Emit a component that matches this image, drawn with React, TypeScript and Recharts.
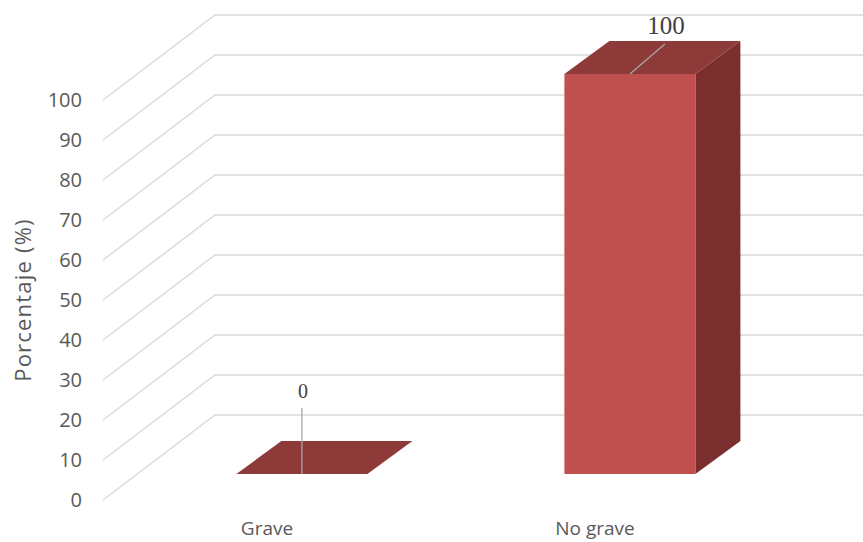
import { BarChart, Bar, XAxis, YAxis, CartesianGrid } from "recharts";

const CATEGORIES = ["Grave", "No grave"];
const PERCENTAGES = [0, 100];
const Y_TICKS = [0, 10, 20, 30, 40, 50, 60, 70, 80, 90, 100];

const data = CATEGORIES.map((name, i) => ({ name, pct: PERCENTAGES[i] }));

// floor/back-wall depth and where the bars sit inside it
const WALL_DX = 112;
const WALL_DY = -85;
const BAR_OX = 35;
const BAR_OY = -26;
const BAR_DX = 45;
const BAR_DY = -33;

const FRONT = "#C0504D";
const TOP = "#8E3A39";
const SIDE = "#7A2F2E";
const GRID = "#D9D9D9";
const AXIS_TEXT = "#595959";

// leader line + label placement for each data label
const LEADERS = [
  { dx: 0, dy: -66, fontSize: 20 },
  { dx: 35, dy: -30, fontSize: 25 },
];

// gridline: diagonal along the side wall, then across the back wall
// eslint-disable-next-line @typescript-eslint/no-explicit-any
function WallLine(p: any) {
  const bx = p.x1 + WALL_DX;
  const by = p.y1 + WALL_DY;
  return (
    <path
      key={`wall-${p.index}-${p.y1}`}
      d={`M${p.x1},${p.y1} L${bx},${by} L${p.x2 + 200},${by}`}
      stroke={GRID}
      strokeWidth={1.4}
      fill="none"
    />
  );
}

// eslint-disable-next-line @typescript-eslint/no-explicit-any
function Box3D(props: any) {
  const { x, y, width, height, index, payload } = props;
  const fx = x + BAR_OX;
  const fy = y + BAR_OY;
  const w = width;
  const h = Math.max(height, 0);
  const cx = fx + w / 2;
  const lead = LEADERS[index] ?? LEADERS[0];
  return (
    <g>
      {h > 0 && (
        <polygon
          points={`${fx + w},${fy} ${fx + w + BAR_DX},${fy + BAR_DY} ${fx + w + BAR_DX},${fy + h + BAR_DY} ${fx + w},${fy + h}`}
          fill={SIDE}
        />
      )}
      {h > 0 && <rect x={fx} y={fy} width={w} height={h} fill={FRONT} />}
      <polygon
        points={`${fx},${fy} ${fx + w},${fy} ${fx + w + BAR_DX},${fy + BAR_DY} ${fx + BAR_DX},${fy + BAR_DY}`}
        fill={TOP}
      />
      <line
        x1={cx}
        y1={fy}
        x2={cx + lead.dx}
        y2={fy + lead.dy}
        stroke="#A6A6A6"
        strokeWidth={1.3}
      />
      <text
        x={cx + lead.dx + 1}
        y={fy + lead.dy - 10}
        textAnchor="middle"
        fontFamily="'Liberation Serif', serif"
        fontSize={lead.fontSize}
        fill="#404040"
      >
        {payload.pct}
      </text>
    </g>
  );
}

export default function App() {
  return (
    <div style={{ position: "absolute", left: 0, top: 0, background: "#fff" }}>
      <BarChart
        width={863}
        height={542}
        data={data}
        margin={{ top: 100, right: 104, bottom: 0, left: 0 }}
        barCategoryGap="30%"
      >
        <CartesianGrid vertical={false} horizontal={WallLine} />
        <XAxis
          dataKey="name"
          height={42}
          tickLine={false}
          axisLine={false}
          tickSize={0}
          tickMargin={22}
          tick={{ fill: AXIS_TEXT, fontSize: 19, fontFamily: "'Open Sans', sans-serif" }}
        />
        <YAxis
          width={103}
          domain={[0, 100]}
          ticks={Y_TICKS}
          interval={0}
          tickLine={false}
          axisLine={false}
          tickSize={0}
          tickMargin={21}
          tick={{ fill: AXIS_TEXT, fontSize: 20, fontFamily: "'Open Sans', sans-serif" }}
          label={{
            value: "Porcentaje (%)",
            angle: -90,
            position: "insideLeft",
            offset: 23,
            style: {
              textAnchor: "middle",
              fill: AXIS_TEXT,
              fontSize: 22,
              letterSpacing: 1.2,
              fontFamily: "'Open Sans', sans-serif",
            },
          }}
        />
        <Bar dataKey="pct" shape={Box3D} isAnimationActive={false} />
      </BarChart>
    </div>
  );
}
